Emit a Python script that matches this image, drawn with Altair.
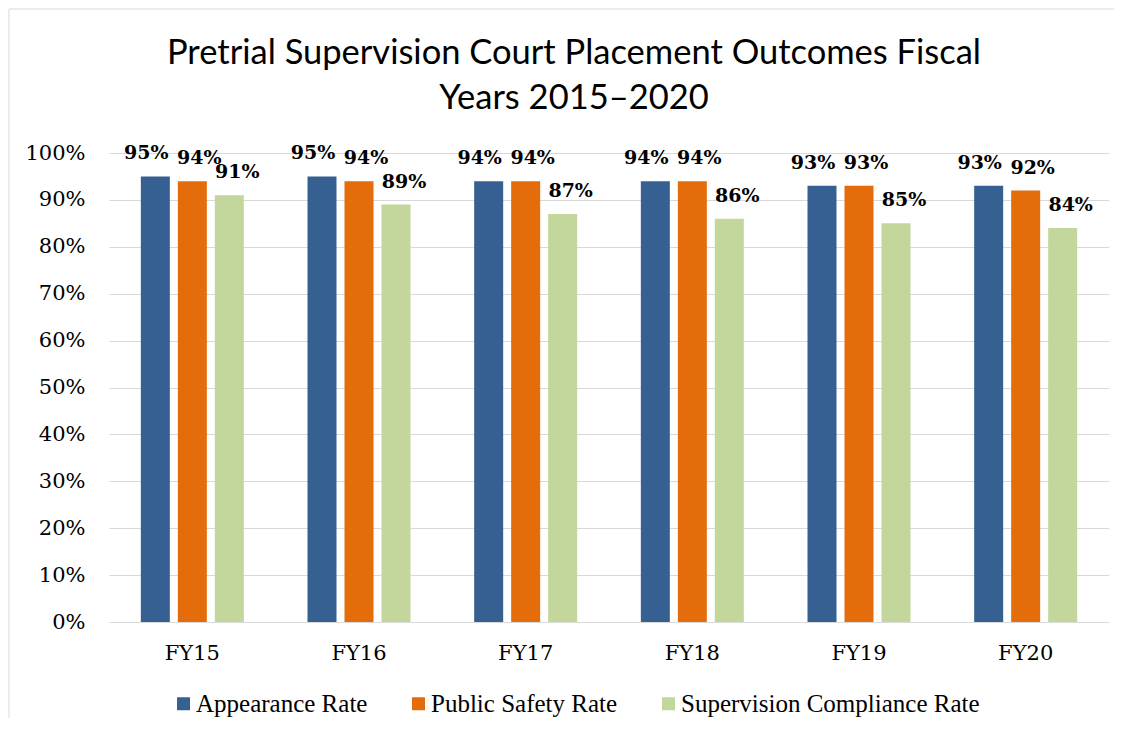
import altair as alt
import pandas as pd

years = ["FY15", "FY16", "FY17", "FY18", "FY19", "FY20"]
series = ["Appearance Rate", "Public Safety Rate", "Supervision Compliance Rate"]
appearance = [95, 95, 94, 94, 93, 93]
public_safety = [94, 94, 94, 94, 93, 92]
compliance = [91, 89, 87, 86, 85, 84]
colors = ["#376092", "#E46C0A", "#C3D69B"]

rows = []
for s, vals in zip(series, [appearance, public_safety, compliance]):
    for yr, v in zip(years, vals):
        rows.append({"year": yr, "series": s, "value": v / 100})
df = pd.DataFrame(rows)

W, H = 1000, 469

x_enc = alt.X(
    "year:N", sort=years,
    scale=alt.Scale(paddingInner=0.382, paddingOuter=0.191),
    axis=alt.Axis(title=None, labelAngle=0, labelFont="DejaVu Serif", labelFontSize=21,
                  labelColor="#000000", labelPadding=20, ticks=False, domain=False, grid=False),
)
xo_enc = alt.XOffset("series:N", sort=series, scale=alt.Scale(paddingInner=0.216))
y_enc = alt.Y(
    "value:Q", scale=alt.Scale(domain=[0, 1]),
    axis=alt.Axis(title=None, format=".0%", values=[i / 10 for i in range(11)],
                  labelFont="DejaVu Serif", labelFontSize=21, labelColor="#000000",
                  labelPadding=24, ticks=False, domain=False,
                  gridColor="#D9D9D9", gridWidth=1),
)
color_enc = alt.Color(
    "series:N", sort=series,
    scale=alt.Scale(domain=series, range=colors),
    legend=alt.Legend(title=None, orient="none", legendX=62, legendY=538,
                      direction="horizontal", symbolType="square", symbolSize=169,
                      symbolStrokeWidth=0, labelFont="Liberation Serif", labelFontSize=25,
                      labelColor="#000000", columnPadding=38, labelOffset=0, padding=0,
                      labelLimit=500),
)

bars = alt.Chart(df).mark_bar().encode(x=x_enc, xOffset=xo_enc, y=y_enc, color=color_enc)

label_dx = {"Appearance Rate": -9, "Public Safety Rate": 7, "Supervision Compliance Rate": 8}
label_layers = []
for s in series:
    label_layers.append(
        alt.Chart(df).transform_filter(alt.datum.series == s).mark_text(
            font="DejaVu Serif", fontWeight="bold", fontSize=19, dy=-17, dx=label_dx[s],
            baseline="alphabetic", color="#000000",
        ).encode(x=x_enc, xOffset=xo_enc, y=y_enc, text=alt.Text("value:Q", format=".0%"))
    )

one = pd.DataFrame({"k": [0]})
border_left = alt.Chart(one).mark_rule(color="#D9D9D9", strokeWidth=1).encode(
    x=alt.value(-100), y=alt.value(-144), y2=alt.value(565))
border_top = alt.Chart(one).mark_rule(color="#D9D9D9", strokeWidth=1).encode(
    x=alt.value(-100), x2=alt.value(1005), y=alt.value(-144))

chart = alt.layer(border_left, border_top, bars, *label_layers).properties(
    width=W, height=H, padding=0,
    title=alt.TitleParams(
        ["Pretrial Supervision Court Placement Outcomes Fiscal", "Years 2015\u20132020"],
        font="Lato", fontSize=34.5, fontWeight="normal", color="#000000",
        anchor="middle", dx=-35, offset=-108, lineHeight=45,
    ),
).configure_view(stroke=None)

chart.save("out.html", embed_options={"renderer": "svg", "actions": False})
